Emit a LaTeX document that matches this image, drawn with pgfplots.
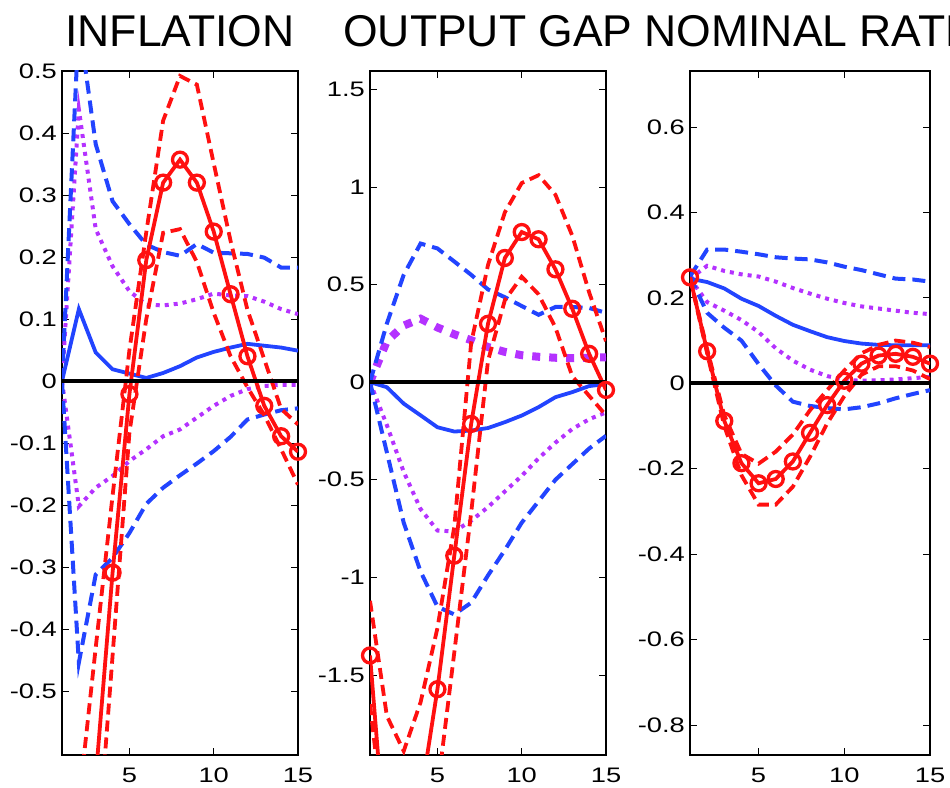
\documentclass[border=0pt]{standalone}
\usepackage{fontspec}
\usepackage{pgfplots}
\usepackage{pgfplotstable}
\pgfplotsset{compat=1.18}
\setmainfont{Liberation Sans}
\newfontfamily\tickfamily[FakeStretch=1.3]{Liberation Sans}
\newcommand\tickfont{\tickfamily\fontsize{21}{21}\selectfont}
\newcommand\titlefont{\fontsize{44.5}{44.5}\selectfont}

\definecolor{irfblue}{RGB}{34,68,255}
\definecolor{irfred}{RGB}{255,16,16}
\definecolor{irfpurple}{RGB}{180,50,255}

% columns: horizon, blue median/upper/lower, purple upper/lower, red median/upper/lower
\pgfplotstableread{
x  bmid   bup    blo     pup    plo     rmid    rup     rlo
1  0      0      0       0      0       -0.90   -0.72   -1.10
2  0.116  0.58   -0.454  0.438  -0.202  -0.95   -0.68   -1.20
3  0.046  0.382  -0.312  0.245  -0.172  -0.64   -0.43   -0.80
4  0.019  0.290  -0.285  0.185  -0.153  -0.309  -0.185  -0.443
5  0.012  0.253  -0.245  0.145  -0.129  -0.021  0.05    -0.083
6  0.005  0.220  -0.198  0.123  -0.110  0.195   0.24    0.10
7  0.013  0.208  -0.172  0.122  -0.089  0.320   0.42    0.239
8  0.024  0.202  -0.152  0.125  -0.078  0.357   0.492   0.245
9  0.038  0.221  -0.133  0.132  -0.059  0.320   0.478   0.192
10 0.047  0.207  -0.113  0.141  -0.040  0.241   0.351   0.11
11 0.054  0.206  -0.090  0.138  -0.024  0.140   0.226   0.04
12 0.060  0.205  -0.062  0.137  -0.013  0.040   0.115   -0.01
13 0.057  0.199  -0.054  0.128  -0.008  -0.040  0.035   -0.055
14 0.054  0.183  -0.047  0.116  -0.006  -0.089  -0.045  -0.11
15 0.049  0.183  -0.044  0.108  -0.006  -0.114  -0.07   -0.167
}\inflation

\pgfplotstableread{
x  bmid    bup    blo     pup    plo     rmid    rup    rlo
1  0       0      0       0      0       -1.40   -1.12  -1.65
2  -0.026  0.30   -0.36   0.21   -0.22   -2.47   -1.71  -2.40
3  -0.11   0.55   -0.72   0.29   -0.46   -2.60   -1.89  -2.60
4  -0.17   0.71   -0.97   0.325  -0.65   -2.13   -1.64  -2.40
5  -0.231  0.685  -1.15   0.28   -0.76   -1.573  -1.26  -2.09
6  -0.253  0.618  -1.19   0.245  -0.765  -0.889  -0.74  -1.385
7  -0.248  0.550  -1.13   0.215  -0.71   -0.214  0.20   -0.67
8  -0.235  0.475  -0.99   0.18   -0.64   0.299   0.60   0.11
9  -0.205  0.435  -0.86   0.155  -0.56   0.636   0.87   0.42
10 -0.171  0.39   -0.72   0.138  -0.48   0.769   1.02   0.54
11 -0.128  0.345  -0.61   0.13   -0.39   0.732   1.06   0.45
12 -0.077  0.385  -0.50   0.125  -0.31   0.578   0.96   0.28
13 -0.051  0.385  -0.42   0.123  -0.24   0.376   0.75   0.03
14 -0.02   0.38   -0.34   0.125  -0.19   0.145   0.46   -0.07
15 -0.01   0.355  -0.275  0.127  -0.155  -0.04   0.21   -0.17
}\outputgap

\pgfplotstableread{
x  bmid   bup    blo     pup    plo    rmid    rup     rlo
1  0.245  0.25   0.25    0.245  0.245  0.248   0.248   0.248
2  0.237  0.313  0.165   0.275  0.19   0.075   0.08    0.07
3  0.222  0.313  0.13    0.263  0.17   -0.088  -0.075  -0.10
4  0.198  0.308  0.10    0.255  0.148  -0.187  -0.165  -0.215
5  0.181  0.302  0.045   0.25   0.12   -0.234  -0.188  -0.284
6  0.158  0.295  -0.005  0.238  0.082  -0.224  -0.16   -0.284
7  0.137  0.292  -0.043  0.223  0.053  -0.183  -0.12   -0.242
8  0.122  0.29   -0.053  0.21   0.032  -0.116  -0.063  -0.172
9  0.108  0.283  -0.058  0.198  0.017  -0.051  -0.016  -0.094
10 0.099  0.273  -0.061  0.188  0.008  0.006   0.03    -0.03
11 0.093  0.265  -0.056  0.18   0.006  0.046   0.07    0.02
12 0.090  0.255  -0.047  0.175  0.007  0.065   0.09    0.04
13 0.089  0.245  -0.035  0.17   0.009  0.069   0.10    0.04
14 0.089  0.243  -0.025  0.165  0.012  0.062   0.095   0.03
15 0.089  0.238  -0.016  0.162  0.015  0.046   0.085   0.01
}\nominalrate

\pgfplotsset{
  irf/.style={
    scale only axis, anchor=south west,
    height=684pt,
    xmin=1, xmax=15,
    xtick={5,10,15}, xticklabels={5,10,15},
    tick align=inside, major tick length=7pt,
    tick style={black, line width=0.8pt},
    axis line style={black, line width=1.2pt},
    ticklabel style={font=\tickfont},
    xticklabel style={anchor=north, inner sep=0pt, yshift=-13pt},
    yticklabel style={anchor=east, inner sep=0pt, xshift=-5pt},
    clip marker paths=false,
  },
  bluemid/.style={irfblue, line width=3.8pt},
  blueband/.style={irfblue, line width=4pt, dash pattern=on 13pt off 7pt},
  purpband/.style={irfpurple, line width=4pt, line cap=butt, dash pattern=on 4pt off 5pt},
  purpthick/.style={irfpurple, line width=8pt, line cap=butt, dash pattern=on 8pt off 9pt},
  redmid/.style={irfred, line width=3.8pt},
  redband/.style={irfred, line width=3.8pt, dash pattern=on 11pt off 6pt},
  redmarks/.style={irfred, only marks, mark=o, mark size=7.5pt,
    mark options={line width=3.3pt, solid, fill=none}},
  zeroline/.style={black, line width=4.3pt},
}

\begin{document}
\begin{tikzpicture}
\path[use as bounding box] (0,0) rectangle (950pt,787pt);

\node[anchor=base, font=\titlefont] at (180pt,740pt) {INFLATION};
\node[anchor=base, font=\titlefont] at (488pt,740pt) {OUTPUT GAP};
\node[anchor=base, font=\titlefont] at (810pt,740pt) {NOMINAL RATE};

% inflation
\begin{axis}[irf, at={(62pt,32pt)}, width=236pt,
  ymin=-0.603, ymax=0.5,
  ytick={-0.5,-0.4,-0.3,-0.2,-0.1,0,0.1,0.2,0.3,0.4,0.5},
  yticklabels={-0.5,-0.4,-0.3,-0.2,-0.1,0,0.1,0.2,0.3,0.4,0.5}]
  \addplot[purpband] table[x=x, y=pup] {\inflation};
  \addplot[purpband] table[x=x, y=plo] {\inflation};
  \addplot[blueband] table[x=x, y=bup] {\inflation};
  \addplot[blueband] table[x=x, y=blo] {\inflation};
  \addplot[bluemid] table[x=x, y=bmid] {\inflation};
  \addplot[redband] table[x=x, y=rup] {\inflation};
  \addplot[redband] table[x=x, y=rlo] {\inflation};
  \addplot[redmid] table[x=x, y=rmid] {\inflation};
  \addplot[redmarks, restrict y to domain=-0.603:0.5] table[x=x, y=rmid] {\inflation};
  \addplot[zeroline] coordinates {(1,0) (15,0)};
\end{axis}

% output gap
\begin{axis}[irf, at={(370pt,32pt)}, width=236pt,
  ymin=-1.91, ymax=1.594,
  ytick={-1.5,-1,-0.5,0,0.5,1,1.5},
  yticklabels={-1.5,-1,-0.5,0,0.5,1,1.5}]
  \addplot[purpthick] table[x=x, y=pup] {\outputgap};
  \addplot[purpband] table[x=x, y=plo] {\outputgap};
  \addplot[blueband] table[x=x, y=bup] {\outputgap};
  \addplot[blueband] table[x=x, y=blo] {\outputgap};
  \addplot[bluemid] table[x=x, y=bmid] {\outputgap};
  \addplot[redband] table[x=x, y=rup] {\outputgap};
  \addplot[redband] table[x=x, y=rlo] {\outputgap};
  \addplot[redmid] table[x=x, y=rmid] {\outputgap};
  \addplot[redmarks, restrict y to domain=-1.91:1.594] table[x=x, y=rmid] {\outputgap};
  \addplot[zeroline] coordinates {(1,0) (15,0)};
\end{axis}

% nominal rate
\begin{axis}[irf, at={(690pt,32pt)}, width=240pt,
  ymin=-0.870, ymax=0.731,
  ytick={-0.8,-0.6,-0.4,-0.2,0,0.2,0.4,0.6},
  yticklabels={-0.8,-0.6,-0.4,-0.2,0,0.2,0.4,0.6}]
  \addplot[purpband] table[x=x, y=pup] {\nominalrate};
  \addplot[purpband] table[x=x, y=plo] {\nominalrate};
  \addplot[blueband] table[x=x, y=bup] {\nominalrate};
  \addplot[blueband] table[x=x, y=blo] {\nominalrate};
  \addplot[bluemid] table[x=x, y=bmid] {\nominalrate};
  \addplot[redband] table[x=x, y=rup] {\nominalrate};
  \addplot[redband] table[x=x, y=rlo] {\nominalrate};
  \addplot[redmid] table[x=x, y=rmid] {\nominalrate};
  \addplot[redmarks, restrict y to domain=-0.870:0.731] table[x=x, y=rmid] {\nominalrate};
  \addplot[zeroline] coordinates {(1,0) (15,0)};
\end{axis}
\end{tikzpicture}
\end{document}
